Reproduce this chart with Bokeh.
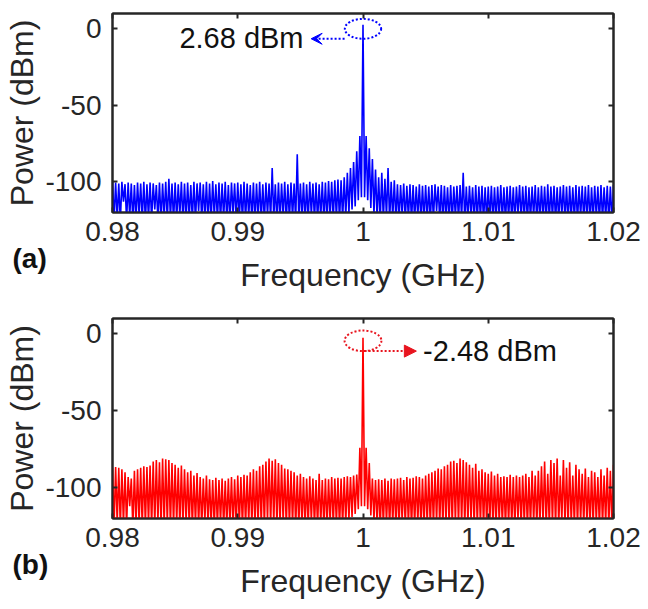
import numpy as np
from bokeh.plotting import figure
from bokeh.layouts import column
from bokeh.models import (Range1d, LinearAxis, FixedTicker, Label, Arrow,
                          VeeHead, NormalHead, CustomLabelingPolicy, Title)
from bokeh.embed import file_html
from bokeh.resources import INLINE

# ---------------- data ----------------
F_START = 0.98      # GHz, first sweep bin
F_STEP = 0.00025    # GHz, sweep bin spacing (161 bins)

# (a) upper envelope of the trace at each sweep bin, dBm
peak_a = [
    -99.5, -100.5, -101, -100, -101.5, -100.5, -101, -102, -100.5, -101,
    -100, -101.5, -100.5, -101, -102, -100.5, -101, -100, -98, -101,
    -100.5, -101.5, -100, -101, -100.5, -102, -100, -101, -100.5, -101.5,
    -100, -101, -99.5, -101.5, -100.5, -101, -100, -102, -100.5, -101,
    -100.5, -101.5, -100, -101, -102, -100.5, -101, -100, -101.5, -100.5,
    -101, -91, -101.5, -100.5, -101, -100, -101.5, -100.5, -101, -82,
    -101, -100.5, -101.5, -100, -101, -100.5, -101.5, -100, -100.5, -99.5,
    -100, -99, -98.5, -99, -97, -94, -91, -87, -80, -70,
    2.68,
    -70, -78, -85, -92, -97, -94, -98, -91, -100, -99,
    -101.5, -102, -101, -102.5, -101.5, -102, -103, -101.5, -102.5, -102,
    -103, -102, -101.5, -103, -102, -102.5, -103.5, -102, -103, -102.5,
    -102, -94, -103, -102.5, -103.5, -102, -103, -102.5, -103.5, -103,
    -102.5, -103.5, -103, -102, -103.5, -103, -102.5, -103.5, -103, -102,
    -103, -102.5, -103.5, -103, -102, -103.5, -102.5, -103, -101.5, -103,
    -102.5, -103.5, -103, -102, -103, -102.5, -103.5, -102, -103, -102.5,
    -103, -102, -103.5, -102.5, -103, -102, -103.5, -102.5, -103, -102,
]
# (a) trace minima between neighbouring bins, dBm
dip_a = [
    -125, -124, -126, -113, -125, -123, -126, -125, -122, -125,
    -126, -124, -125, -118, -125, -126, -123, -125, -124, -126,
    -125, -122, -126, -125, -124, -125, -126, -119, -125, -124,
    -126, -125, -123, -125, -126, -124, -125, -126, -121, -125,
    -124, -126, -125, -123, -125, -126, -124, -125, -126, -122,
    -125, -124, -126, -125, -123, -126, -125, -124, -126, -125,
    -124, -126, -125, -122, -125, -126, -124, -125, -126, -123,
    -125, -124, -126, -125, -123, -121, -118, -116, -112, -110,
    -110, -112, -117, -121, -124, -126, -125, -123, -126, -124,
    -125, -126, -122, -125, -124, -126, -125, -123, -126, -125,
    -124, -126, -125, -119, -125, -126, -124, -125, -126, -123,
    -125, -124, -126, -125, -122, -126, -125, -124, -126, -125,
    -124, -126, -125, -123, -125, -126, -124, -125, -126, -121,
    -125, -124, -126, -125, -123, -126, -125, -124, -126, -125,
    -124, -126, -125, -122, -125, -126, -124, -125, -126, -123,
    -125, -124, -126, -125, -123, -126, -125, -124, -126, -125,
]

# (b) upper envelope of the trace at each sweep bin, dBm
peak_b = [
    -87, -86.5, -87, -88, -90, -93, -94, -89, -88, -87,
    -86, -86.5, -85.5, -83, -82, -83.5, -81, -81.5, -82, -84,
    -85, -87, -85.5, -88, -90, -89, -92, -90.5, -93, -94,
    -92, -94.5, -95, -93.5, -95, -94, -95.5, -94, -93, -94.5,
    -92, -93, -91.5, -92, -90, -88, -89, -86, -85, -83,
    -81, -82.5, -81.5, -84, -85, -87.5, -88, -89, -90, -92,
    -91, -93, -94, -92.5, -94, -95, -91, -95, -94, -94.5,
    -93, -94, -93.5, -94, -93, -92.5, -93, -92, -91.5, -74,
    -2.48,
    -74, -84, -94, -95, -94.5, -95, -94, -95.5, -94, -94.5,
    -94, -93.5, -95, -93, -94, -93.5, -92.5, -93, -94, -92,
    -91, -90, -89, -87.5, -88, -86, -85, -83, -82.5, -84,
    -81, -82, -83.5, -85, -87, -84.5, -89, -88, -90, -91,
    -89.5, -92, -91, -93, -92.5, -93, -91.5, -93, -92, -93,
    -92, -91, -93, -89, -92, -89, -86, -83, -91, -82,
    -84, -81, -92, -82, -87, -83.5, -92, -85, -88, -91,
    -87.5, -93, -89, -90, -93, -88, -92, -87, -89, -85,
]
# (b) trace minima between neighbouring bins, dBm
dip_b = [
    -125, -123, -126, -124, -125, -112, -126, -125, -124, -126,
    -125, -124, -126, -125, -123, -126, -125, -124, -126, -125,
    -124, -126, -125, -123, -125, -126, -124, -125, -126, -122,
    -125, -124, -126, -125, -123, -126, -125, -124, -126, -125,
    -124, -126, -125, -123, -125, -126, -124, -125, -126, -122,
    -125, -124, -126, -125, -123, -126, -125, -124, -126, -125,
    -124, -126, -125, -122, -125, -126, -124, -125, -126, -123,
    -125, -124, -126, -125, -123, -121, -119, -117, -114, -112,
    -112, -114, -118, -121, -124, -126, -125, -123, -126, -124,
    -125, -126, -122, -125, -124, -126, -125, -123, -126, -125,
    -124, -126, -125, -123, -125, -126, -124, -125, -126, -123,
    -125, -124, -126, -125, -122, -126, -125, -124, -126, -125,
    -124, -126, -125, -123, -125, -126, -124, -125, -126, -121,
    -125, -124, -126, -125, -123, -126, -125, -124, -126, -125,
    -124, -126, -125, -122, -125, -126, -124, -125, -126, -123,
    -125, -124, -126, -125, -123, -126, -125, -124, -126, -125,
]

x_ticks = [0.98, 0.99, 1.0, 1.01, 1.02]
x_tick_labels = ["0.98", "0.99", "1", "1.01", "1.02"]
y_ticks = [-100, -50, 0]
y_tick_labels = ["-100", "-50", "0"]

FONT = "Liberation Sans"
TXT = "#262626"


def trace(peaks, dips):
    xs, ys = [], []
    for i, pk in enumerate(peaks):
        f = F_START + i * F_STEP
        xs.append(f)
        ys.append(pk)
        if i < len(dips):
            xs.append(f + F_STEP / 2)
            ys.append(dips[i])
    return xs, ys


def make_panel(peaks, dips, color, height, bottom_border, tag):
    p = figure(width=648, height=height, output_backend="svg",
               toolbar_location=None,
               x_range=Range1d(0.98, 1.02), y_range=Range1d(-120, 10),
               min_border_left=112, min_border_right=35,
               min_border_top=13, min_border_bottom=bottom_border)
    p.grid.visible = False
    p.outline_line_color = TXT
    p.outline_line_width = 2
    p.background_fill_color = "white"
    p.border_fill_color = "white"

    xs, ys = trace(peaks, dips)
    p.line(xs, ys, line_color=color, line_width=1.6)

    for ax, ticks, labels in ((p.xaxis[0], x_ticks, x_tick_labels),
                              (p.yaxis[0], y_ticks, y_tick_labels)):
        ax.ticker = FixedTicker(ticks=ticks)
        ax.major_label_overrides = dict(zip(ticks, labels))
        ax.major_label_text_font = FONT
        ax.major_label_text_font_size = "28px"
        ax.major_label_text_color = TXT
        ax.axis_label_text_font = FONT
        ax.axis_label_text_font_size = "32px"
        ax.axis_label_text_font_style = "normal"
        ax.axis_label_text_color = TXT
        ax.major_tick_in = 5
        ax.major_tick_out = 0
        ax.major_tick_line_width = 2
        ax.major_tick_line_color = TXT
        ax.minor_tick_line_color = None
        ax.axis_line_width = 2
        ax.axis_line_color = TXT
    p.xaxis.major_label_standoff = 9
    p.yaxis.axis_label = "Power (dBm)"
    p.yaxis.major_label_standoff = 11
    p.yaxis.axis_label_standoff = 2

    for loc, ticks in (("right", y_ticks), ("above", x_ticks)):
        ax = LinearAxis(ticker=FixedTicker(ticks=ticks),
                        major_label_policy=CustomLabelingPolicy(
                            code="return new Set()"),
                        major_label_text_font_size="8px",
                        major_label_standoff=0,
                        major_tick_in=5, major_tick_out=0,
                        major_tick_line_width=2, major_tick_line_color=TXT,
                        minor_tick_line_color=None,
                        axis_line_width=2, axis_line_color=TXT)
        p.add_layout(ax, loc)

    # panel tag at the left, on the row of the x-axis title
    p.add_layout(Title(text=tag, align="left", vertical_align="top",
                       offset=-100, standoff=-2, text_font=FONT,
                       text_font_size="28px", text_font_style="bold",
                       text_color="#111111"), "below")
    # x-axis title (pulled back up to the tag's row)
    p.add_layout(Title(text="Frequency (GHz)", align="center",
                       vertical_align="top", standoff=-36, text_font=FONT,
                       text_font_size="32px", text_font_style="normal",
                       text_color=TXT), "below")
    return p


p1 = make_panel(peak_a, dip_a, "#0000FF", 305, 93, "(a)")
p2 = make_panel(peak_b, dip_b, "#FF0000", 304, 91, "(b)")

# annotations (a)
p1.ellipse(x=[1.0], y=[0], width=0.0029, height=13, fill_color=None,
           line_color="#0000FF", line_width=2, line_dash="2 2")
p1.add_layout(Arrow(x_start=0.99853, y_start=-6.5, x_end=0.99586, y_end=-6.5,
                    line_color="#0000FF", line_width=2, line_dash="2 2",
                    end=VeeHead(size=11, line_color="#0000FF",
                                fill_color="#0000FF", line_width=1)))
p1.add_layout(Label(x=0.99525, y=-6.3, text="2.68 dBm", text_align="right",
                    text_baseline="middle", text_font=FONT,
                    text_font_size="29px", text_color="#111111"))

# annotations (b)
p2.ellipse(x=[1.0], y=[-4.5], width=0.00294, height=13.4, fill_color=None,
           line_color="#E8141E", line_width=2, line_dash="2 2")
p2.add_layout(Arrow(x_start=1.00013, y_start=-11.2, x_end=1.00426, y_end=-11.2,
                    line_color="#E8141E", line_width=2, line_dash="2 2",
                    end=NormalHead(size=12, line_color="#E8141E",
                                   fill_color="#E8141E", line_width=1)))
p2.add_layout(Label(x=1.0048, y=-10.8, text="-2.48 dBm", text_align="left",
                    text_baseline="middle", text_font=FONT,
                    text_font_size="29px", text_color="#111111"))

layout = column(p1, p2, spacing=0)
open("out.html", "w").write(file_html(layout, INLINE))
